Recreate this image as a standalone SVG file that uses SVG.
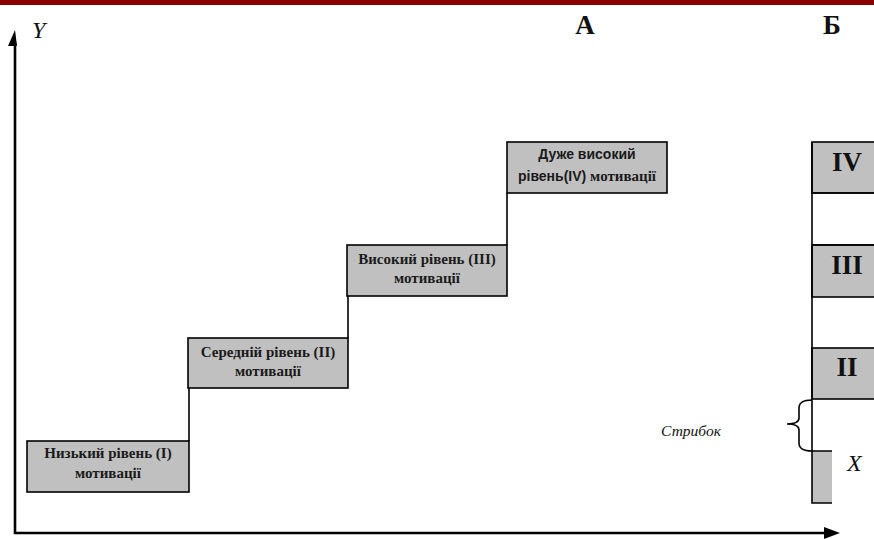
<svg xmlns="http://www.w3.org/2000/svg" width="874" height="539" viewBox="0 0 874 539">
<style>
.box{fill:#c0c0c0;stroke:#000;stroke-width:1.6}
.ln{stroke:#000;stroke-width:1.6;fill:none}
.axis{stroke:#000;stroke-width:2.6;fill:none}
.t{font-family:"Liberation Serif",serif;font-weight:bold;font-size:15px;text-anchor:middle;fill:#1a1a1a}
.ts{font-family:"Liberation Sans",sans-serif;font-weight:bold;font-size:14px}
.big{font-family:"Liberation Serif",serif;font-weight:bold;font-size:27px;text-anchor:middle;fill:#111}
.it{font-family:"Liberation Serif",serif;font-style:italic;fill:#111}
</style>
<rect x="0" y="0" width="874" height="5" fill="#8b0000"/>
<g id="axes">
<path class="axis" d="M15,42 V533 H826"/>
<polygon points="15,30 8,46 17,46" fill="#000"/>
<polygon points="840,533 824,527 824,539" fill="#000"/>
<text class="it" x="32" y="38" font-size="24">Y</text>
</g>
<g id="labels">
<text class="big" x="585" y="34">А</text>
<text class="big" x="832" y="34">Б</text>
</g>
<g id="connectors">
<path class="ln" d="M189,388 V441"/>
<path class="ln" d="M348,296 V338"/>
<path class="ln" d="M507,193 V245"/>
</g>
<g id="level1">
<rect class="box" x="27" y="441" width="162" height="51"/>
<text class="t" x="108" y="458">Низький рівень (I)</text>
<text class="t" x="108" y="478">мотивації</text>
</g>
<g id="level2">
<rect class="box" x="188" y="338" width="160" height="50"/>
<text class="t" x="268" y="357">Середній рівень (II)</text>
<text class="t" x="268" y="376">мотивації</text>
</g>
<g id="level3">
<rect class="box" x="347" y="245" width="160" height="51"/>
<text class="t" x="427" y="264">Високий рівень (III)</text>
<text class="t" x="427" y="283">мотивації</text>
</g>
<g id="level4">
<rect class="box" x="507" y="142" width="160" height="51"/>
<text class="t" x="587" y="159"><tspan class="ts">Дуже високий</tspan></text>
<text class="t" x="587" y="181"><tspan class="ts">рівень(IV) </tspan>мотивації</text>
</g>
<g id="columnB">
<rect class="box" x="812" y="142" width="70" height="51"/>
<rect class="box" x="812" y="245" width="70" height="52"/>
<rect class="box" x="812" y="348" width="70" height="51"/>
<rect x="812" y="451" width="20" height="52" fill="#c0c0c0"/>
<path class="ln" d="M812,142 V503 H832 M812,451 H832 M812,193 H874 M812,245 H874"/>
<text class="big" x="847" y="171" font-size="26">IV</text>
<text class="big" x="847" y="274" font-size="26">III</text>
<text class="big" x="847" y="376" font-size="26">II</text>
<text class="it" x="847" y="471" font-size="24">X</text>
</g>
<g id="jump">
<path class="ln" d="M812,400 Q799,400 799,408 V418 Q799,424 787,424 Q799,424 799,430 V443 Q799,451 812,451"/>
<text class="it" x="691" y="436" font-size="15.5" text-anchor="middle">Стрибок</text>
</g>
</svg>
